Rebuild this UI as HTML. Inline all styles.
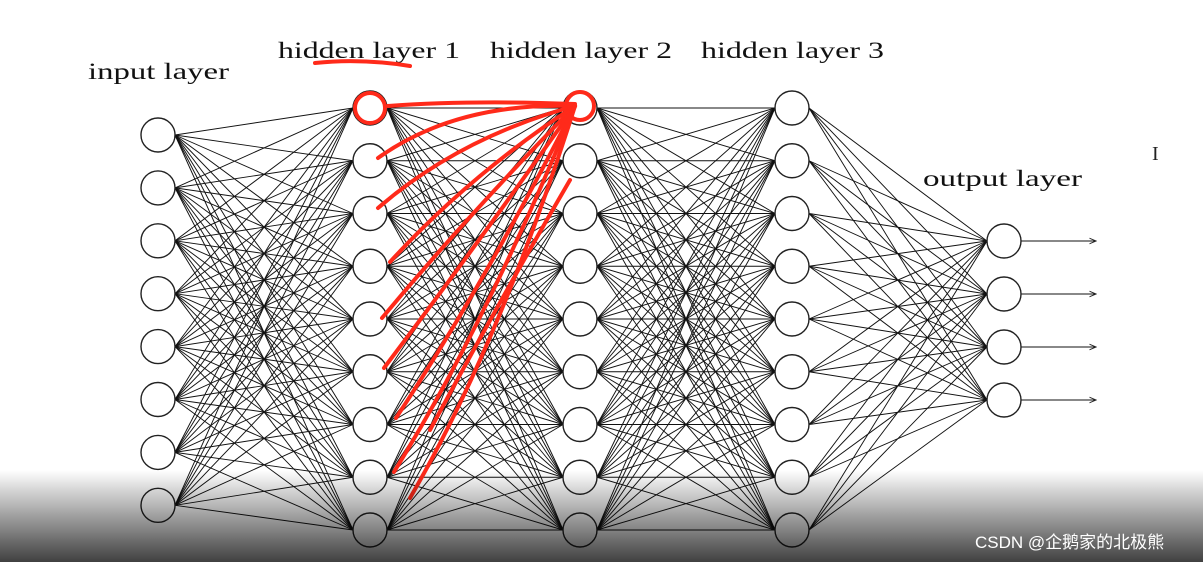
<!DOCTYPE html>
<html><head><meta charset="utf-8"><style>
html,body{margin:0;padding:0;background:#fff;width:1203px;height:562px;overflow:hidden}
svg{display:block}
</style></head><body>
<svg id="s" width="1203" height="562" xmlns="http://www.w3.org/2000/svg">
<defs>
<linearGradient id="g" x1="0" y1="0" x2="0" y2="1">
<stop offset="0" stop-color="#000" stop-opacity="0"/>
<stop offset="1" stop-color="#000" stop-opacity="0.75"/>
</linearGradient>
<marker id="ah" markerWidth="8" markerHeight="8" refX="7" refY="4" orient="auto"><path d="M0,1 L7,4 L0,7" fill="none" stroke="#222" stroke-width="1"/></marker>
</defs>
<g id="lines" stroke="#111" stroke-width="0.95" fill="none"></g>
<g id="nodes" stroke="#222" stroke-width="1.4" fill="#fff"></g>
<g font-family="'Liberation Serif',serif" font-size="23" fill="#111" lengthAdjust="spacingAndGlyphs">
<text x="88" y="79" textLength="141" lengthAdjust="spacingAndGlyphs">input layer</text>
<text x="278" y="58" textLength="182" lengthAdjust="spacingAndGlyphs">hidden layer 1</text>
<text x="490" y="58" textLength="182" lengthAdjust="spacingAndGlyphs">hidden layer 2</text>
<text x="701" y="58" textLength="183" lengthAdjust="spacingAndGlyphs">hidden layer 3</text>
<text x="923" y="186" textLength="159" lengthAdjust="spacingAndGlyphs">output layer</text>
</g>
<text x="1152" y="160" font-family="'Liberation Serif',serif" font-size="20" fill="#222">I</text>
<g id="red" stroke="#ff2a1a" stroke-width="4" fill="none" stroke-linecap="round"></g>
<rect x="0" y="470" width="1203" height="92" fill="url(#g)"/>
<text x="975" y="548" font-family="'Liberation Sans','Noto Sans CJK SC',sans-serif" font-size="17" fill="#fff">CSDN @企鹅家的北极熊</text>
</svg>
<script>
var NS="http://www.w3.org/2000/svg";
function el(p,t,a){var e=document.createElementNS(NS,t);for(var k in a)e.setAttribute(k,a[k]);document.getElementById(p).appendChild(e);return e;}
var hy=[];for(var i=0;i<9;i++)hy.push(108+i*52.75);
var iy=[];for(var i=0;i<8;i++)iy.push(135+i*52.9);
var oy=[241,294,347,400];
var L=[[158,iy],[370,hy],[580,hy],[792,hy],[1004,oy]];
var r=17;
for(var l=0;l<4;l++){var a=L[l],b=L[l+1];
 a[1].forEach(function(y1){b[1].forEach(function(y2){
  el("lines","line",{x1:a[0]+r,y1:y1,x2:b[0]-r,y2:y2});});});}
oy.forEach(function(y){el("lines","line",{x1:1021,y1:y,x2:1096,y2:y,"marker-end":"url(#ah)"});});
L.forEach(function(c){c[1].forEach(function(y){el("nodes","circle",{cx:c[0],cy:y,r:r});});});
el("red","path",{d:"M315,63 Q360,58 410,66"});
el("red","circle",{cx:370,cy:108,r:15});
el("red","circle",{cx:580,cy:106,r:14});
el("red","path",{d:"M388,106 Q470,100 575,104"});
var ends=[[378,158],[378,208],[390,262],[382,318],[384,368],[396,418],[394,472],[410,498]];
ends.forEach(function(e,i){
 var cx=(e[0]+575)/2 - 20 + i*4, cy=(e[1]+106)/2 - 30 + i*10;
 el("red","path",{d:"M575,106 Q"+cx+","+cy+" "+e[0]+","+e[1]});});
el("red","path",{d:"M570,180 Q500,300 430,430"});
</script>
</body></html>
